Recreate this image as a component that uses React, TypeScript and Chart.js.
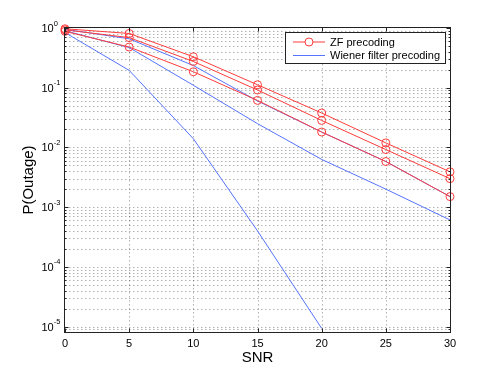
import React, { useEffect, useRef } from 'react';
import { Chart, registerables } from 'chart.js';

Chart.register(...registerables);

// ---- data ----
const SNR = [0, 5, 10, 15, 20, 25, 30];
const ZF_A = [0.97, 0.81, 0.33, 0.112, 0.0377, 0.0119, 0.0039];
const ZF_B = [0.93, 0.69, 0.275, 0.0915, 0.0283, 0.0092, 0.003];
const ZF_C = [0.88, 0.48, 0.185, 0.0613, 0.0181, 0.0058, 0.0015];
const WF_A = [0.95, 0.66, 0.235, 0.06, 0.0181, 0.0058, 0.0015];
const WF_B = [0.9, 0.47, 0.11, 0.025, 0.0063, 0.002, 0.00061];
const WF_C = [0.84, 0.195, 0.014, 0.0004, 0.0000093, null, null];

const X_TICKS = [0, 5, 10, 15, 20, 25, 30];
const Y_EXPONENTS = [0, -1, -2, -3, -4, -5];
const X_LABEL = 'SNR';
const Y_LABEL = 'P(Outage)';
const LEGEND_LABELS = ['ZF precoding', 'Wiener filter precoding'];

const RED = 'rgb(255,60,60)';
const BLUE = 'rgb(85,115,255)';
const Y_MIN = 8.1e-6;
const Y_MAX = 1;
const FONT = '"Liberation Sans", Arial, Helvetica, sans-serif';

const matlabPlugin = {
  id: 'matlabLook',
  beforeDatasetsDraw(chart: any) {
    const { ctx, chartArea: a, scales } = chart;
    const x = scales.x;
    const y = scales.y;
    ctx.save();
    ctx.strokeStyle = 'rgba(0,0,0,0.3)';
    ctx.lineWidth = 1;
    ctx.setLineDash([1.5, 2.5]);
    for (const v of X_TICKS) {
      const px = Math.round(x.getPixelForValue(v)) + 0.5;
      if (px <= a.left + 1 || px >= a.right - 1) continue;
      ctx.beginPath();
      ctx.moveTo(px, a.top);
      ctx.lineTo(px, a.bottom);
      ctx.stroke();
    }
    for (let e = -6; e <= 0; e++) {
      for (let k = 1; k <= 9; k++) {
        const v = k * Math.pow(10, e);
        if (v < Y_MIN || v > Y_MAX) continue;
        const py = Math.round(y.getPixelForValue(v)) + 0.5;
        if (py <= a.top + 1 || py >= a.bottom - 1) continue;
        ctx.beginPath();
        ctx.moveTo(a.left, py);
        ctx.lineTo(a.right, py);
        ctx.stroke();
      }
    }
    ctx.restore();
  },
  afterDatasetsDraw(chart: any) {
    const { ctx, chartArea: a, scales } = chart;
    const x = scales.x;
    const y = scales.y;
    ctx.save();
    ctx.setLineDash([]);
    ctx.strokeStyle = '#222';
    ctx.lineWidth = 1;
    const L = Math.round(a.left) - 0.5;
    const R = Math.round(a.right) + 0.5;
    const T = Math.round(a.top) - 0.5;
    const B = Math.round(a.bottom) + 0.5;
    ctx.strokeRect(L, T, R - L, B - T);

    // x ticks (inward, top and bottom)
    ctx.beginPath();
    for (const v of X_TICKS) {
      const px = Math.round(x.getPixelForValue(v)) + 0.5;
      ctx.moveTo(px, B);
      ctx.lineTo(px, B - 4);
      ctx.moveTo(px, T);
      ctx.lineTo(px, T + 4);
    }
    // y ticks
    for (let e = -6; e <= 0; e++) {
      for (let k = 1; k <= 9; k++) {
        const v = k * Math.pow(10, e);
        if (v < Y_MIN || v > Y_MAX) continue;
        const py = Math.round(y.getPixelForValue(v)) + 0.5;
        const len = k === 1 ? 4 : 2;
        ctx.moveTo(L, py);
        ctx.lineTo(L + len, py);
        ctx.moveTo(R, py);
        ctx.lineTo(R - len, py);
      }
    }
    ctx.stroke();

    // tick labels
    ctx.fillStyle = '#000';
    ctx.font = `11px ${FONT}`;
    ctx.textAlign = 'center';
    ctx.textBaseline = 'alphabetic';
    for (const v of X_TICKS) {
      ctx.fillText(String(v), x.getPixelForValue(v), 347);
    }
    for (const e of Y_EXPONENTS) {
      const py = y.getPixelForValue(Math.pow(10, e));
      ctx.font = `11px ${FONT}`;
      ctx.textAlign = 'left';
      ctx.fillText('10', 41.5, py + 4);
      const w = ctx.measureText('10').width;
      ctx.font = `7.5px ${FONT}`;
      ctx.fillText(String(e), 41.5 + w, py - 2.5);
    }

    // axis titles
    ctx.font = `15px ${FONT}`;
    ctx.textAlign = 'center';
    ctx.fillText(X_LABEL, (a.left + a.right) / 2, 361.5);
    ctx.save();
    ctx.translate(33, (a.top + a.bottom) / 2);
    ctx.rotate(-Math.PI / 2);
    ctx.fillText(Y_LABEL, 0, 0);
    ctx.restore();

    // legend
    const lx = 285.5, ly = 32.5, lw = 160, lh = 31;
    ctx.fillStyle = '#fff';
    ctx.fillRect(lx, ly, lw, lh);
    ctx.strokeStyle = '#222';
    ctx.strokeRect(lx, ly, lw, lh);
    const rows = [42, 55.5];
    const colors = [RED, BLUE];
    ctx.font = `11px ${FONT}`;
    ctx.textAlign = 'left';
    ctx.textBaseline = 'middle';
    rows.forEach((ry, i) => {
      ctx.strokeStyle = colors[i];
      ctx.beginPath();
      ctx.moveTo(293, ry);
      ctx.lineTo(325, ry);
      ctx.stroke();
      if (i === 0) {
        ctx.beginPath();
        ctx.arc(309, ry, 4, 0, Math.PI * 2);
        ctx.fillStyle = '#fff';
        ctx.fill();
        ctx.stroke();
      }
      ctx.fillStyle = '#000';
      ctx.fillText(LEGEND_LABELS[i], 330, ry + 0.5);
    });
    ctx.restore();
  },
};

function mk(label: string, data: (number | null)[], color: string, marker: boolean) {
  return {
    label,
    data: SNR.map((s, i) => ({ x: s, y: data[i] })),
    borderColor: color,
    backgroundColor: 'rgba(0,0,0,0)',
    borderWidth: 1,
    pointRadius: marker ? 4 : 0,
    pointHoverRadius: marker ? 4 : 0,
    pointBorderWidth: 1,
    pointBorderColor: color,
    pointBackgroundColor: 'rgba(0,0,0,0)',
    pointStyle: 'circle',
    fill: false,
    tension: 0,
    spanGaps: false,
    clip: false as any,
  };
}

export default function App() {
  const ref = useRef<HTMLCanvasElement | null>(null);
  useEffect(() => {
    if (!ref.current) return;
    const chart = new Chart(ref.current, {
      type: 'line',
      data: {
        datasets: [
          mk('ZF precoding', ZF_A, RED, true),
          mk('ZF precoding 2', ZF_B, RED, true),
          mk('ZF precoding 3', ZF_C, RED, true),
          mk('Wiener filter precoding', WF_A, BLUE, false),
          mk('Wiener filter precoding 2', WF_B, BLUE, false),
          mk('Wiener filter precoding 3', WF_C, BLUE, false),
        ] as any,
      },
      options: {
        animation: false,
        responsive: false,
        devicePixelRatio: 1,
        layout: { padding: { left: 65, right: 48, top: 28, bottom: 43 } },
        plugins: { legend: { display: false }, tooltip: { enabled: false }, title: { display: false } },
        events: [],
        scales: {
          x: { type: 'linear', min: 0, max: 30, display: false },
          y: { type: 'logarithmic', min: Y_MIN, max: Y_MAX, display: false },
        },
      },
      plugins: [matlabPlugin],
    });
    return () => chart.destroy();
  }, []);
  return (
    <div style={{ position: 'absolute', left: 0, top: 0, width: 498, height: 375, background: '#fff' }}>
      <canvas ref={ref} width={498} height={375} style={{ display: 'block', width: 498, height: 375 }} />
    </div>
  );
}
